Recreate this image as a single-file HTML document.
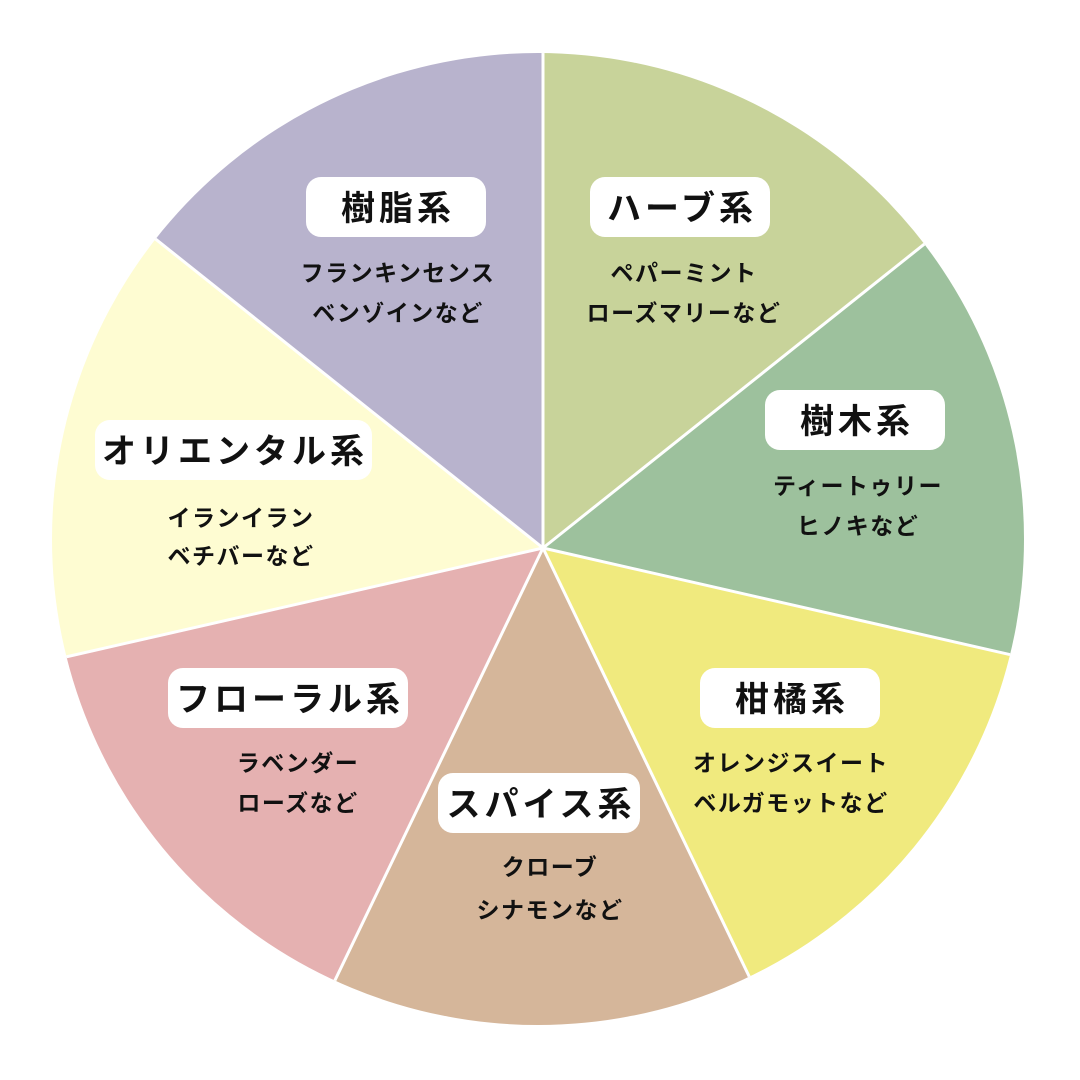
<!DOCTYPE html>
<html><head><meta charset="utf-8"><style>
html,body{margin:0;padding:0;background:#fff;overflow:hidden;width:1080px;height:1080px;}
svg{display:block;}
svg text{font-family:"Liberation Sans","Noto Sans CJK JP",sans-serif;text-anchor:middle;fill:#111;}
.t{font-size:34px;font-weight:700;letter-spacing:4px;}
.s{font-size:23px;font-weight:700;letter-spacing:1.5px;}
</style></head><body>
<svg width="1080" height="1080" viewBox="0 0 1080 1080" xmlns="http://www.w3.org/2000/svg">
<defs><clipPath id="c"><circle cx="538" cy="539" r="486"/></clipPath></defs>
<g clip-path="url(#c)">
<polygon points="543,548 543,0 1080,0 1080,120" fill="#c8d39a"/>
<polygon points="543,548 1080,120 1080,670.6" fill="#9dc19d"/>
<polygon points="543,548 1080,670.6 1080,1080 799,1080" fill="#f0ea7e"/>
<polygon points="543,548 799,1080 287,1080" fill="#d5b69a"/>
<polygon points="543,548 287,1080 0,1080 0,672" fill="#e5b1b1"/>
<polygon points="543,548 0,672 0,115" fill="#fefcd2"/>
<polygon points="543,548 0,115 0,0 543,0" fill="#b8b3cd"/>
<g stroke="#fff" stroke-width="3">
<line x1="543" y1="548" x2="543" y2="0"/>
<line x1="543" y1="548" x2="1080" y2="120"/>
<line x1="543" y1="548" x2="1080" y2="670.6"/>
<line x1="543" y1="548" x2="799" y2="1080"/>
<line x1="543" y1="548" x2="287" y2="1080"/>
<line x1="543" y1="548" x2="0" y2="672"/>
<line x1="543" y1="548" x2="0" y2="115"/>
</g>
</g>
<g fill="#fff">
<rect x="306" y="177" width="180" height="60" rx="15"/>
<rect x="590" y="177" width="180" height="60" rx="15"/>
<rect x="765" y="390" width="180" height="60" rx="15"/>
<rect x="700" y="668" width="180" height="60" rx="15"/>
<rect x="438" y="773" width="202" height="60" rx="15"/>
<rect x="168" y="668" width="240" height="60" rx="15"/>
<rect x="95" y="420" width="277" height="60" rx="15"/>
</g>
<text class="t" x="398" y="220">樹脂系</text>
<text class="s" x="398" y="281">フランキンセンス</text>
<text class="s" x="398" y="321">ベンゾインなど</text>
<text class="t" x="682" y="220">ハーブ系</text>
<text class="s" x="684" y="281">ペパーミント</text>
<text class="s" x="684" y="321">ローズマリーなど</text>
<text class="t" x="857" y="433">樹木系</text>
<text class="s" x="858" y="494">ティートゥリー</text>
<text class="s" x="858" y="534">ヒノキなど</text>
<text class="t" x="792" y="711">柑橘系</text>
<text class="s" x="791" y="771">オレンジスイート</text>
<text class="s" x="791" y="811">ベルガモットなど</text>
<text class="t" x="541" y="816">スパイス系</text>
<text class="s" x="550" y="875">クローブ</text>
<text class="s" x="550" y="918">シナモンなど</text>
<text class="t" x="290" y="711">フローラル系</text>
<text class="s" x="298" y="771">ラベンダー</text>
<text class="s" x="298" y="811">ローズなど</text>
<text class="t" x="235" y="463">オリエンタル系</text>
<text class="s" x="241" y="526">イランイラン</text>
<text class="s" x="241" y="564">ベチバーなど</text>
</svg>
</body></html>
